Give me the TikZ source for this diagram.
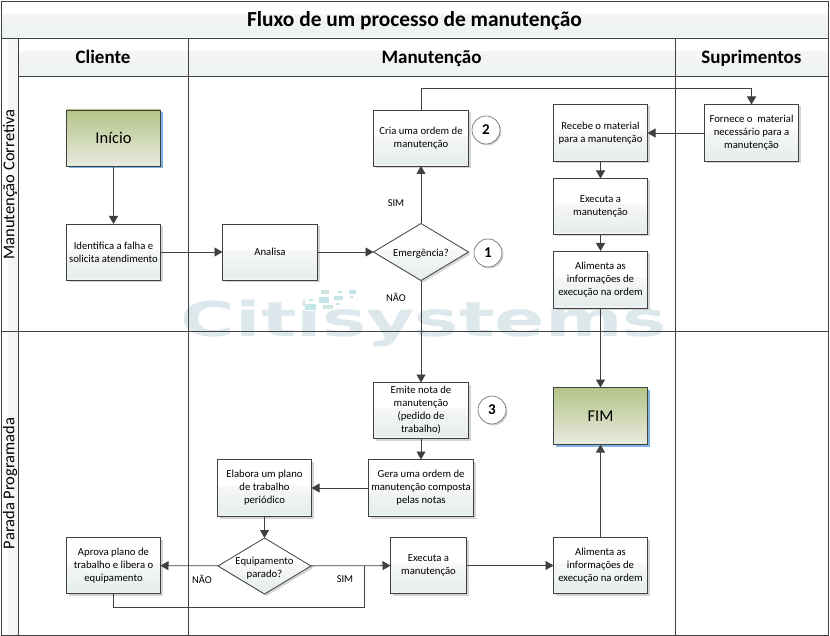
\documentclass[tikz,border=0pt]{standalone}
\usepackage{fontspec}
\setmainfont{Carlito}
\usetikzlibrary{arrows.meta,shapes.geometric,shadows}

\definecolor{linha}{HTML}{404040}
\definecolor{sombra}{HTML}{D4D4D4}
\definecolor{sombraazul}{HTML}{7FB5E0}
\definecolor{marca}{HTML}{DCE8EC}
\definecolor{marcateal}{HTML}{C4E6E8}
\definecolor{marcaverde}{HTML}{CFE8DC}

% degrades das caixas e das faixas
\pgfdeclareverticalshading{fundocaixa}{100bp}{rgb(0bp)=(0.97,0.97,0.97); rgb(25bp)=(0.97,0.97,0.97); rgb(28bp)=(0.90,0.93,0.93); rgb(52bp)=(0.97,0.97,0.97); rgb(53bp)=(1,1,1); rgb(100bp)=(1,1,1)}
\pgfdeclareverticalshading{fundofaixa}{100bp}{rgb(0bp)=(0.93,0.95,0.95); rgb(27bp)=(0.93,0.95,0.95); rgb(58bp)=(0.96,0.96,0.96); rgb(59bp)=(1,1,1); rgb(100bp)=(1,1,1)}
\pgfdeclareverticalshading{fundoinicio}{100bp}{rgb(0bp)=(0.91,0.92,0.88); rgb(25bp)=(0.91,0.92,0.88); rgb(75bp)=(0.71,0.77,0.53); rgb(100bp)=(0.71,0.77,0.53)}

\newcommand{\centrado}[1]{\smash{\makebox[0pt]{\raisebox{-5pt}{\begin{tabular}[c]{@{}c@{}}#1\end{tabular}}}}}

\tikzset{
    caixa/.style={draw=linha, line width=0.8pt, rectangle, shading=fundocaixa, align=center,
        minimum width=94pt, minimum height=56pt, inner sep=1pt, outer sep=0pt,
        font=\fontsize{10.7}{13}\selectfont, execute at begin node={\mbox{}\\[-11pt]},
        drop shadow={shadow xshift=2pt, shadow yshift=-2pt, fill=sombra, opacity=1}},
    terminal/.style={caixa, shading=fundoinicio, font=\fontsize{16.5}{18}\selectfont, execute at begin node={},
        drop shadow={shadow xshift=2pt, shadow yshift=-2pt, fill=sombraazul, opacity=1}},
    decisao/.style={draw=linha, line width=0.8pt, diamond, shading=fundocaixa, inner sep=0pt, outer sep=0pt,
        minimum width=95pt, minimum height=57pt, font=\fontsize{10.7}{13}\selectfont,
        drop shadow={shadow xshift=2pt, shadow yshift=-2pt, fill=sombra, opacity=1}},
    etapa/.style={circle, draw=linha!80, line width=0.6pt, fill=white, minimum size=28pt, inner sep=0pt,
        outer sep=0pt, font=\fontsize{15}{18}\selectfont\bfseries,
        drop shadow={shadow xshift=1.5pt, shadow yshift=-1.5pt, fill=sombra, opacity=1}},
    faixa/.style={rectangle, shading=fundofaixa, inner sep=0pt, outer sep=0pt, text height=13pt, text depth=0pt},
    cabecalho/.style={faixa, font=\fontsize{19}{21}\selectfont\bfseries},
    raia/.style={rotate=90, font=\fontsize{16.5}{20}\selectfont},
    rotulo/.style={font=\fontsize{10.5}{12}\selectfont, inner sep=0pt},
    seta/.style={draw=linha, line width=0.8pt, -{Triangle[length=8pt,width=9pt]}},
    grade/.style={draw=linha, line width=0.8pt},
}

\begin{document}
\begin{tikzpicture}[x=1pt,y=-1pt]
    \useasboundingbox (0,0) rectangle (830,636);
    \fill[white] (0,0) rectangle (830,636);

    % 1. Marca d'agua
    \node[text=marca, xscale=1.55, inner sep=0pt, font=\fontsize{48}{50}\selectfont\fontspec{DejaVu Sans}\bfseries] (citi) at (424,323) {Citisystems};
    \fill[white] (305,300) rectangle (320,311);
    \fill[marcateal] (305,304) rectangle (316,310);
    \fill[marcateal] (319,297) rectangle (329,303);
    \fill[marcaverde] (321,290) rectangle (329,294);
    \fill[marcateal] (334,296) rectangle (343,300);
    \fill[marcaverde] (323,305) rectangle (333,309);
    \fill[marcateal] (349,290) rectangle (356,294);
    \fill[marcateal] (338,291) rectangle (342,293);
    \fill[marcateal] (350,296) rectangle (353,298);
    \fill[marcateal] (309,299) rectangle (313,301);
    \fill[marcateal] (336,303) rectangle (340,305);

    % 2. Faixas de titulo e das colunas
    \node[cabecalho, minimum width=827pt, minimum height=37pt, text height=14pt, font=\fontsize{21.4}{23}\selectfont\bfseries] (titulo) at (414.5,19.5) {Fluxo de um processo de manutenção};
    \node[cabecalho, minimum width=170pt, minimum height=38pt] (cliente) at (103,57) {Cliente};
    \node[cabecalho, minimum width=487pt, minimum height=38pt] (manut) at (431.5,57) {Manutenção};
    \node[cabecalho, minimum width=153pt, minimum height=38pt] (suprim) at (751.5,57) {Suprimentos};
    \fill[black!4] (8,38) rectangle (18,635);
    \node[raia] (corretiva) at (10,184.5) {Manutenção Corretiva};
    \node[raia] (parada) at (10,483.5) {Parada Programada};

    % 3. Grade
    \draw[grade] (1,1) rectangle (828,635);
    \draw[grade] (1,38) -- (828,38);
    \draw[grade] (18,76) -- (828,76);
    \draw[grade] (1,331) -- (828,331);
    \draw[grade] (18,38) -- (18,635);
    \draw[grade] (188,38) -- (188,635);
    \draw[grade] (675,38) -- (675,635);

    % 4. Caixas
    \node[terminal] (inicio) at (113.5,138) {Início};
    \node[caixa] (identifica) at (113.5,252) {Identifica a falha e\\solicita atendimento};
    \node[caixa, minimum width=95pt] (analisa) at (270,252) {Analisa};
    \node[decisao] (emergencia) at (421,252) {\centrado{Emergência?}};
    \node[caixa, minimum width=95pt] (cria) at (421,138) {Cria uma ordem de\\manutenção};
    \node[etapa] (dois) at (486,130) {2};
    \node[etapa] (um) at (488,253) {1};
    \node[caixa, minimum height=57pt] (recebe) at (600.5,133) {Recebe o material\\para a manutenção};
    \node[caixa] (executa) at (600.5,206.5) {Executa a\\manutenção};
    \node[caixa, minimum height=57pt] (alimenta) at (600.5,279.5) {Alimenta as\\informações de\\execução na ordem};
    \node[caixa, minimum height=57pt] (fornece) at (751.5,133) {Fornece o~ material\\necessário para a\\manutenção};
    \node[terminal, minimum height=57pt] (fim) at (600.5,416) {FIM};
    \node[caixa, minimum width=95pt] (emite) at (421,410.5) {Emite nota de\\manutenção\\(pedido de\\trabalho)};
    \node[etapa] (tres) at (492,410) {3};
    \node[caixa, minimum width=105pt, minimum height=57pt] (gera) at (421,488) {Gera uma ordem de\\manutenção composta\\pelas notas};
    \node[caixa, minimum height=57pt] (elabora) at (264.5,488) {Elabora um plano\\de trabalho\\periódico};
    \node[decisao, minimum width=93pt, minimum height=56pt] (equip) at (264.5,566) {\centrado{Equipamento\\parado?}};
    \node[caixa] (aprova) at (113.5,565.5) {Aprova plano de\\trabalho e libera o\\equipamento};
    \node[caixa, minimum width=76pt] (execprog) at (428.5,565.5) {Executa a\\manutenção};
    \node[caixa] (alimprog) at (600.5,565.5) {Alimenta as\\informações de\\execução na ordem};

    % 5. Rotulos
    \node[rotulo] (sim1) at (396,203) {SIM};
    \node[rotulo] (nao1) at (396,297) {NÃO};
    \node[rotulo] (sim2) at (345,579) {SIM};
    \node[rotulo] (nao2) at (202,579) {NÃO};

    % 6. Ligacoes
    \coordinate (juncao) at (364,566);
    \coordinate (retorno) at (364,607);
    \coordinate (topo) at (421,88);
    \draw[seta] (inicio) -- (identifica);
    \draw[seta] (identifica) -- (analisa);
    \draw[seta] (analisa) -- (emergencia);
    \draw[seta] (emergencia) -- (cria);
    \draw[seta] (emergencia) -- (emite);
    \draw[seta] (cria) -- (topo) -| (fornece);
    \draw[seta] (fornece) -- (recebe);
    \draw[seta] (recebe) -- (executa);
    \draw[seta] (executa) -- (alimenta);
    \draw[seta] (alimenta) -- (fim);
    \draw[seta] (emite) -- (gera);
    \draw[seta] (gera) -- (elabora);
    \draw[seta] (elabora) -- (equip);
    \draw[seta] (equip) -- (aprova);
    \draw[seta] (equip) -- (execprog);
    \draw[grade] (aprova) |- (retorno) -- (juncao);
    \draw[seta] (execprog) -- (alimprog);
    \draw[seta] (alimprog) -- (fim);
\end{tikzpicture}
\end{document}
